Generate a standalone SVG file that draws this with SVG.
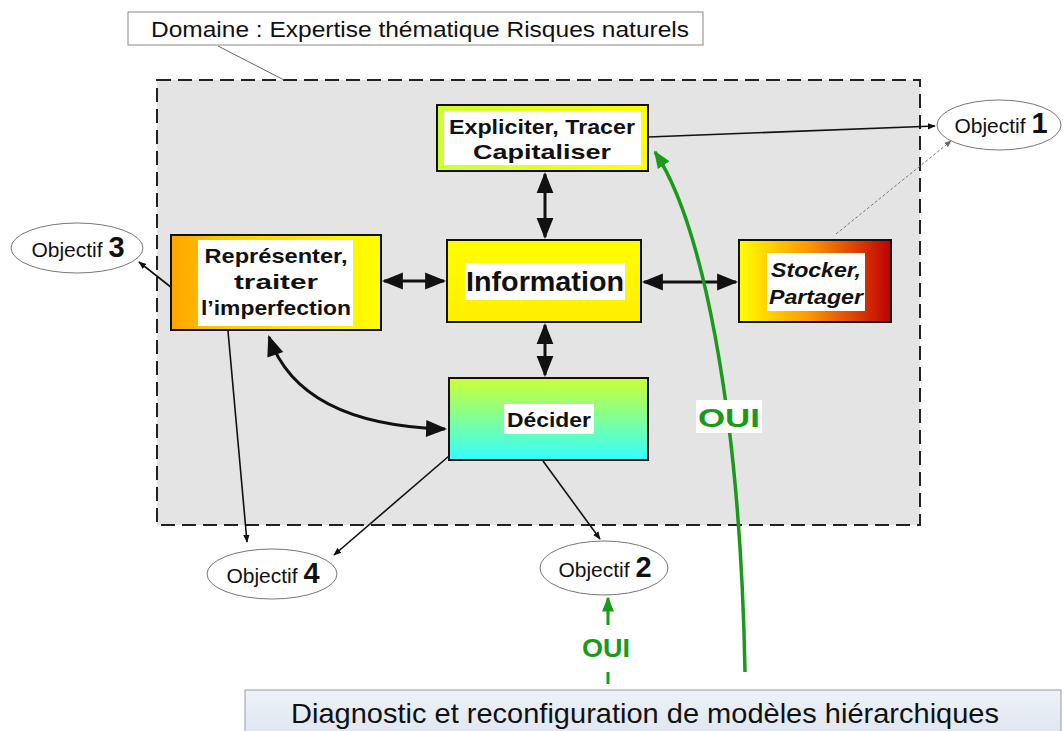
<svg xmlns="http://www.w3.org/2000/svg" width="1064" height="731" viewBox="0 0 1064 731">
<defs>
<style>
.t{font-family:"Liberation Sans",Arial,sans-serif;fill:#111}
.b{font-weight:bold}
.g{fill:#1a9a1a}
.obj{fill:#fff;stroke:#777;stroke-width:1}
.box{stroke:#111;stroke-width:2}
.c{stroke:#111;stroke-width:1.6;fill:none}
.ct{stroke:#111;stroke-width:3;fill:none}
</style>
<linearGradient id="gExp" x1="0" y1="0" x2="1" y2="0"><stop offset="0" stop-color="#ccff33"/><stop offset="1" stop-color="#ffff00"/></linearGradient>
<linearGradient id="gInf" x1="0" y1="0" x2="0" y2="1"><stop offset="0" stop-color="#ffff00"/><stop offset="1" stop-color="#ffee00"/></linearGradient>
<linearGradient id="gRep" x1="0" y1="0" x2="1" y2="0"><stop offset="0" stop-color="#ffa500"/><stop offset="0.3" stop-color="#ffd000"/><stop offset="1" stop-color="#ffff00"/></linearGradient>
<linearGradient id="gSto" x1="0" y1="0" x2="1" y2="0"><stop offset="0" stop-color="#ffff00"/><stop offset="0.45" stop-color="#ff9900"/><stop offset="1" stop-color="#c00000"/></linearGradient>
<linearGradient id="gDec" x1="0" y1="0" x2="0" y2="1"><stop offset="0" stop-color="#ccff33"/><stop offset="1" stop-color="#33ffff"/></linearGradient>
<linearGradient id="gBot" x1="0" y1="0" x2="0" y2="1"><stop offset="0" stop-color="#eef2f8"/><stop offset="1" stop-color="#dfe6f0"/></linearGradient>
<marker id="ah" viewBox="0 0 10 10" refX="9" refY="5" markerWidth="5" markerHeight="5" orient="auto-start-reverse"><path d="M0,1 L10,5 L0,9 z" fill="#111"/></marker>
<marker id="ahs" viewBox="0 0 10 10" refX="9" refY="5" markerWidth="8" markerHeight="7" orient="auto-start-reverse"><path d="M0,1 L10,5 L0,9 z" fill="#111"/></marker>
<marker id="ahg" viewBox="0 0 10 10" refX="9" refY="5" markerWidth="5" markerHeight="5" orient="auto"><path d="M0,1 L10,5 L0,9 z" fill="#1a9a1a"/></marker>
<marker id="ahd" viewBox="0 0 10 10" refX="9" refY="5" markerWidth="7" markerHeight="7" orient="auto"><path d="M0,1 L10,5 L0,9 z" fill="#666"/></marker>
</defs>
<rect width="1064" height="731" fill="#fff"/>

<g id="domaine">
<rect x="157" y="80" width="763" height="445" fill="#e4e4e4" stroke="#222" stroke-width="2" stroke-dasharray="14,7"/>
<line x1="218" y1="46" x2="284" y2="80" stroke="#666" stroke-width="1"/>
<rect x="128" y="12" width="575" height="33" fill="#fff" stroke="#888" stroke-width="1"/>
<text class="t" x="151" y="37" font-size="22" textLength="538" lengthAdjust="spacingAndGlyphs">Domaine : Expertise thématique  Risques naturels</text>
</g>

<g id="connectors">
<line class="c" x1="648" y1="137" x2="935" y2="126" marker-end="url(#ah)"/>
<line x1="836" y1="234" x2="951" y2="141" stroke="#777" stroke-width="1" stroke-dasharray="3,2" marker-end="url(#ahd)"/>
<line class="ct" x1="545" y1="174" x2="545" y2="237" marker-start="url(#ahs)" marker-end="url(#ahs)" stroke-width="2.5"/>
<line class="ct" x1="545" y1="325" x2="545" y2="375" marker-start="url(#ahs)" marker-end="url(#ahs)" stroke-width="2.5"/>
<line class="ct" x1="384" y1="281" x2="444" y2="281" marker-start="url(#ahs)" marker-end="url(#ahs)" stroke-width="2.5"/>
<line class="ct" x1="644" y1="282" x2="736" y2="282" marker-start="url(#ahs)" marker-end="url(#ahs)" stroke-width="2.5"/>
<line class="c" x1="172" y1="288" x2="139" y2="262" marker-end="url(#ah)"/>
<line class="c" x1="228" y1="331" x2="247" y2="542" marker-end="url(#ah)"/>
<path class="ct" d="M269,337 Q300,425 445,429" marker-start="url(#ahs)" marker-end="url(#ahs)"/>
<line class="c" x1="449" y1="456" x2="334" y2="555" marker-end="url(#ah)"/>
<line class="c" x1="543" y1="461" x2="600" y2="539" marker-end="url(#ah)"/>
<path d="M745,672 C740,400 700,220 655,152" fill="none" stroke="#1a9a1a" stroke-width="3.5" marker-end="url(#ahg)"/>
<line x1="608" y1="684" x2="608" y2="672" stroke="#1a9a1a" stroke-width="3"/>
<line x1="608" y1="625" x2="608" y2="598" stroke="#1a9a1a" stroke-width="3" marker-end="url(#ahg)"/>
<rect x="696" y="400" width="66" height="33" fill="#fff"/>
<text class="t b g" x="729" y="427" font-size="26" text-anchor="middle" textLength="62" lengthAdjust="spacingAndGlyphs">OUI</text>
<text class="t b g" x="606" y="657" font-size="25" text-anchor="middle" textLength="48" lengthAdjust="spacingAndGlyphs">OUI</text>
</g>

<g id="expliciter">
<rect class="box" x="437" y="105" width="211" height="66" fill="url(#gExp)"/>
<rect x="444" y="111" width="197" height="54" fill="#fff"/>
<text class="t b" x="542" y="134" font-size="21" text-anchor="middle" textLength="186" lengthAdjust="spacingAndGlyphs">Expliciter, Tracer</text>
<text class="t b" x="542" y="159" font-size="21" text-anchor="middle" textLength="138" lengthAdjust="spacingAndGlyphs">Capitaliser</text>
</g>

<g id="information">
<rect class="box" x="447" y="240" width="194" height="82" fill="url(#gInf)"/>
<rect x="465" y="263" width="160" height="37" fill="#fff"/>
<text class="t b" x="545" y="291" font-size="28" text-anchor="middle" textLength="158" lengthAdjust="spacingAndGlyphs">Information</text>
</g>

<g id="representer">
<rect class="box" x="171" y="235" width="210" height="95" fill="url(#gRep)"/>
<rect x="198" y="240" width="155" height="86" fill="#fff"/>
<text class="t b" x="276" y="263" font-size="21" text-anchor="middle" textLength="143" lengthAdjust="spacingAndGlyphs">Représenter,</text>
<text class="t b" x="276" y="289" font-size="21" text-anchor="middle" textLength="84" lengthAdjust="spacingAndGlyphs">traiter</text>
<text class="t b" x="276" y="315" font-size="21" text-anchor="middle" textLength="150" lengthAdjust="spacingAndGlyphs">l’imperfection</text>
</g>

<g id="stocker">
<rect class="box" x="739" y="240" width="152" height="82" fill="url(#gSto)"/>
<rect x="767" y="253" width="98" height="58" fill="#fff"/>
<text class="t b" x="816" y="277" font-size="21" font-style="italic" text-anchor="middle" textLength="90" lengthAdjust="spacingAndGlyphs">Stocker,</text>
<text class="t b" x="816" y="304" font-size="21" font-style="italic" text-anchor="middle" textLength="94" lengthAdjust="spacingAndGlyphs">Partager</text>
</g>

<g id="decider">
<rect class="box" x="449" y="378" width="199" height="82" fill="url(#gDec)"/>
<rect x="504" y="404" width="90" height="30" fill="#fff"/>
<text class="t b" x="549" y="427" font-size="21" text-anchor="middle" textLength="84" lengthAdjust="spacingAndGlyphs">Décider</text>
</g>

<g id="objectif1">
<ellipse class="obj" cx="999" cy="125" rx="62" ry="25"/>
<text class="t" x="1001" y="133" font-size="21" text-anchor="middle">Objectif <tspan class="b" font-size="29">1</tspan></text>
</g>
<g id="objectif3">
<ellipse class="obj" cx="77" cy="248" rx="66" ry="25"/>
<text class="t" x="78" y="257" font-size="21" text-anchor="middle">Objectif <tspan class="b" font-size="29">3</tspan></text>
</g>
<g id="objectif4">
<ellipse class="obj" cx="272" cy="574" rx="65" ry="25"/>
<text class="t" x="273" y="583" font-size="21" text-anchor="middle">Objectif <tspan class="b" font-size="29">4</tspan></text>
</g>
<g id="objectif2">
<ellipse class="obj" cx="604" cy="568" rx="64" ry="27"/>
<text class="t" x="605" y="577" font-size="21" text-anchor="middle">Objectif <tspan class="b" font-size="29">2</tspan></text>
</g>

<g id="diagnostic">
<rect x="245" y="690" width="816" height="45" fill="url(#gBot)" stroke="#999" stroke-width="1"/>
<text class="t" x="645" y="723" font-size="28" text-anchor="middle" textLength="708" lengthAdjust="spacingAndGlyphs">Diagnostic et reconfiguration de modèles hiérarchiques</text>
</g>
</svg>
